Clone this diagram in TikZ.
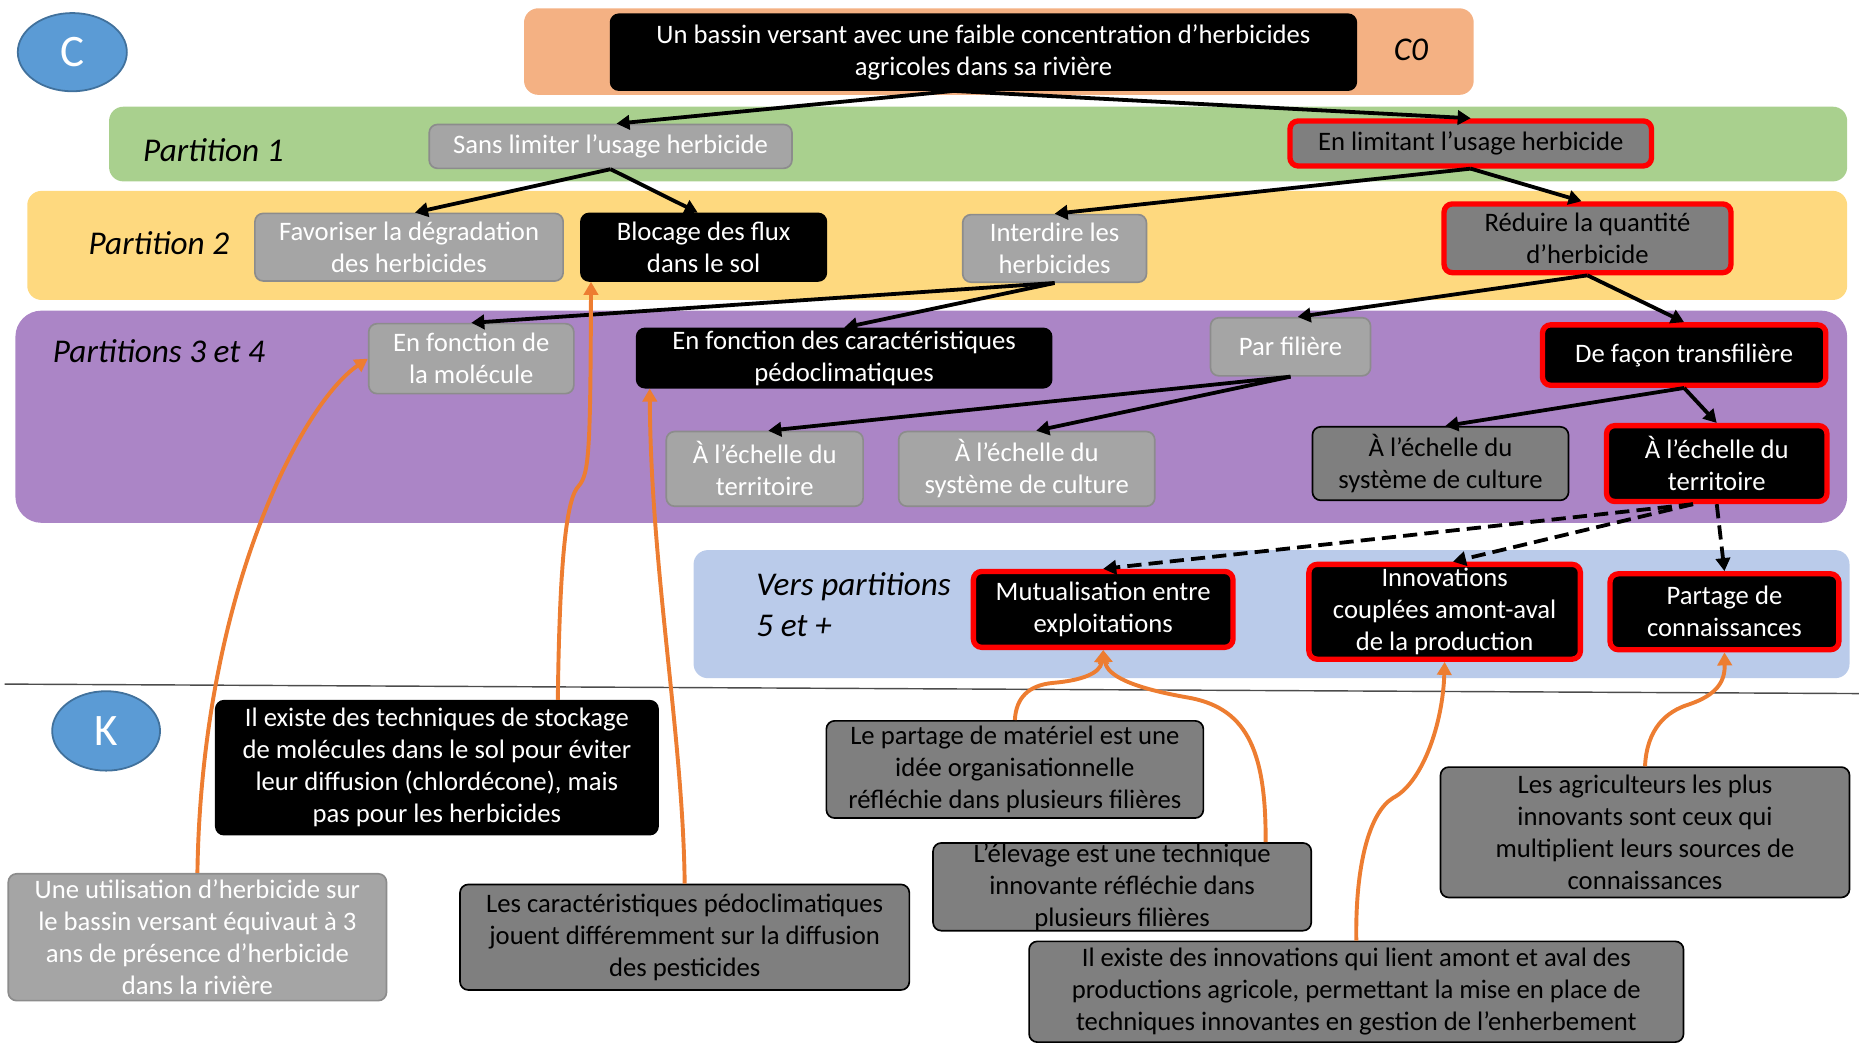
\documentclass[tikz,border=0pt]{standalone}
\usepackage{fontspec}
\setmainfont{Carlito}
\usetikzlibrary{arrows.meta, shapes.geometric}

\definecolor{bandorange}{HTML}{F4B183}
\definecolor{bandgreen}{HTML}{A9D08E}
\definecolor{bandyellow}{HTML}{FED97F}
\definecolor{bandpurple}{HTML}{AB85C6}
\definecolor{bandblue}{HTML}{BACBEA}
\definecolor{boxlight}{HTML}{A5A5A5}
\definecolor{boxdark}{HTML}{7F7F7F}
\definecolor{ckblue}{HTML}{5B9BD5}
\definecolor{ckrim}{HTML}{41719C}
\definecolor{linkorange}{HTML}{ED7D31}

\begin{document}
\begin{tikzpicture}[x=1pt, y=-1pt,
  cbox/.style={draw, rounded corners=7pt, align=center, line width=1.4pt,
    inner xsep=4pt, inner ysep=1pt, font=\fontsize{22.5}{27}\selectfont},
  palebox/.style={cbox, fill=boxlight, draw=boxdark!90, text=white},
  midbox/.style={cbox, fill=boxdark, draw=black, text=black},
  blackbox/.style={cbox, fill=black, draw=black, text=white},
  redrim/.style={draw=red, line width=4.5pt},
  parlabel/.style={font=\fontsize{28}{34}\selectfont\itshape, align=left},
  ckcircle/.style={ellipse, fill=ckblue, draw=ckrim, line width=1.5pt, text=white,
    font=\fontsize{38}{40}\selectfont},
  tree/.style={-{Triangle[length=11pt,width=12pt]}, line width=3.2pt},
  dashtree/.style={tree, dash pattern=on 12pt off 6pt},
  link/.style={-{Triangle[length=11pt,width=12pt]}, line width=3.3pt, linkorange}]

\useasboundingbox (0,0) rectangle (1568,880);

% Partition bands
\fill[bandorange, rounded corners=12pt] (442,7) rectangle (1243,80);
\fill[bandgreen, rounded corners=12pt] (92,90) rectangle (1558,153);
\fill[bandyellow, rounded corners=12pt] (23,161) rectangle (1558,253);
\fill[bandpurple, rounded corners=22pt] (13,262) rectangle (1558,441);
\fill[bandblue, rounded corners=12pt] (585,464) rectangle (1560,572);

% C / K separation
\draw[line width=1.2pt, black!70] (4,577) -- (1568,585);

\node[ckcircle, minimum width=92pt, minimum height=66pt] (cc) at (61,44) {C};
\node[ckcircle, minimum width=91pt, minimum height=67pt] (kc) at (89.5,616.5) {K};

\node[parlabel] (c0) at (1190,42) {C0};
\node[parlabel] (p1) at (180,127) {Partition 1};
\node[parlabel] (p2) at (134,205) {Partition 2};
\node[parlabel] (p34) at (134,296) {Partitions 3 et 4};
\node[parlabel] (p5) at (720,510) {Vers partitions\\5 et +};

% C space
\node[blackbox, minimum width=629pt, minimum height=64pt] (root) at (829.5,44) {Un bassin versant avec une faible concentration d’herbicides\\agricoles dans sa rivière};
\node[palebox, minimum width=306pt, minimum height=37pt] (sans) at (515,123.5) {Sans limiter l’usage herbicide};
\node[midbox, redrim, minimum width=305pt, minimum height=38pt] (lim) at (1240.5,121) {En limitant l’usage herbicide};
\node[palebox, minimum width=260pt, minimum height=57pt] (fav) at (345,208.5) {Favoriser la dégradation\\des herbicides};
\node[blackbox, minimum width=207pt, minimum height=57pt] (bloc) at (593.5,208.5) {Blocage des flux\\dans le sol};
\node[palebox, minimum width=155pt, minimum height=57pt] (int) at (889.5,209.5) {Interdire les\\herbicides};
\node[midbox, redrim, minimum width=242pt, minimum height=58pt] (red) at (1339,201) {Réduire la quantité\\d’herbicide};
\node[palebox, minimum width=173pt, minimum height=59pt] (mol) at (397.5,302.5) {En fonction de\\la molécule};
\node[blackbox, minimum width=350pt, minimum height=50pt] (car) at (712,302) {En fonction des caractéristiques\\pédoclimatiques};
\node[palebox, minimum width=135pt, minimum height=49pt] (pf) at (1088.5,292.5) {Par filière};
\node[blackbox, redrim, minimum width=239pt, minimum height=51pt] (tf) at (1420.5,299.5) {De façon transfilière};
\node[palebox, minimum width=166pt, minimum height=63pt] (terg) at (645,395.5) {À l’échelle du\\territoire};
\node[palebox, minimum width=216pt, minimum height=63pt] (sysg) at (866,395.5) {À l’échelle du\\système de culture};
\node[midbox, minimum width=216pt, minimum height=62pt] (sysd) at (1215,391) {À l’échelle du\\système de culture};
\node[blackbox, redrim, minimum width=186pt, minimum height=64pt] (terb) at (1448,391) {À l’échelle du\\territoire};
\node[blackbox, redrim, minimum width=219pt, minimum height=64pt] (mut) at (930.5,514) {Mutualisation entre\\exploitations};
\node[blackbox, redrim, minimum width=229pt, minimum height=80pt] (inn) at (1218.5,516) {Innovations\\couplées amont-aval\\de la production};
\node[blackbox, redrim, minimum width=193pt, minimum height=64pt] (par) at (1454.5,516) {Partage de\\connaissances};

% K space
\node[blackbox, minimum width=373pt, minimum height=113pt] (k1) at (368.5,647.5) {Il existe des techniques de stockage\\de molécules dans le sol pour éviter\\leur diffusion (chlordécone), mais\\pas pour les herbicides};
\node[palebox, minimum width=319pt, minimum height=107pt] (k2) at (166.5,790.5) {Une utilisation d’herbicide sur\\le bassin versant équivaut à 3\\ans de présence d’herbicide\\dans la rivière};
\node[midbox, minimum width=379pt, minimum height=89pt] (k3) at (577.5,790.5) {Les caractéristiques pédoclimatiques\\jouent différemment sur la diffusion\\des pesticides};
\node[midbox, minimum width=318pt, minimum height=82pt] (k4) at (856,649) {Le partage de matériel est une\\idée organisationnelle\\réfléchie dans plusieurs filières};
\node[midbox, minimum width=319pt, minimum height=74pt, inner ysep=0pt] (k5) at (946.5,748) {L’élevage est une technique\\innovante réfléchie dans\\plusieurs filières};
\node[midbox, minimum width=552pt, minimum height=85pt] (k6) at (1144,836.5) {Il existe des innovations qui lient amont et aval des\\productions agricole, permettant la mise en place de\\techniques innovantes en gestion de l’enherbement};
\node[midbox, minimum width=345pt, minimum height=110pt] (k7) at (1387.5,702) {Les agriculteurs les plus\\innovants sont ceux qui\\multiplient leurs sources de\\connaissances};

% Tree of concepts
\draw[tree] ([xshift=-25pt]root.south) -- ([xshift=5pt]sans.north);
\draw[tree] ([xshift=-25pt]root.south) -- (lim.north);
\draw[tree] (sans.south) -- ([xshift=5pt]fav.north);
\draw[tree] (sans.south) -- ([xshift=-5pt]bloc.north);
\draw[tree] (lim.south) -- (int.north);
\draw[tree] (lim.south) -- ([xshift=-5pt]red.north);
\draw[tree] (int.south) -- (mol.north);
\draw[tree] (int.south) -- (car.north);
\draw[tree] (red.south) -- ([xshift=6pt]pf.north);
\draw[tree] (red.south) -- (tf.north);
\draw[tree] (pf.south) -- ([xshift=3pt]terg.north);
\draw[tree] (pf.south) -- ([xshift=8pt]sysg.north);
\draw[tree] (tf.south) -- ([xshift=4pt]sysd.north);
\draw[tree] (tf.south) -- (terb.north);
\draw[dashtree] ([xshift=-20pt]terb.south) -- (mut.north);
\draw[dashtree] ([xshift=-20pt]terb.south) -- ([xshift=7pt]inn.north);
\draw[dashtree] (terb.south) -- (par.north);

% Knowledge links
\draw[link] (k2.north) .. controls (170,500) and (255,340) .. (mol.west);
\draw[link] ([xshift=102pt]k1.north) .. controls (472,470) and (478,420) .. (488,410) .. controls (497,400) and (498,380) .. ([xshift=-95pt]bloc.south);
\draw[link] (k3.north) .. controls (576,620) and (549,480) .. ([xshift=-164pt]car.south);
\draw[link] (k4.north) .. controls (857,588) and (868,578) .. (888,576) .. controls (912,574) and (928,568) .. (mut.south);
\draw[link] ([xshift=121pt]k5.north) .. controls (1068,630) and (1050,596) .. (1000,588) .. controls (955,580) and (934,570) .. (mut.south);
\draw[link] (k6.north) .. controls (1143,730) and (1155,685) .. (1175,673) .. controls (1200,660) and (1217,610) .. (inn.south);
\draw[link] (k7.north) .. controls (1389,615) and (1405,600) .. (1425,594) .. controls (1448,586) and (1455,575) .. (par.south);

\end{tikzpicture}
\end{document}
